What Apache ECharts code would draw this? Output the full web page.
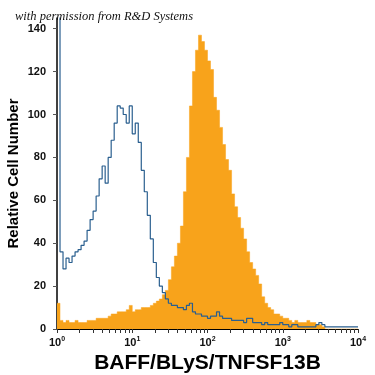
<!DOCTYPE html>
<html><head><meta charset="utf-8">
<script src="https://cdn.jsdelivr.net/npm/echarts@6/dist/echarts.min.js"></script>
<style>html,body{margin:0;padding:0;background:#fff}#c{width:375px;height:375px}</style>
</head><body><div id="c"></div>
<script>
// Histogram channels: 100 bins, each 0.04 decade wide, starting at 10^0
const binWidthDecades = 0.04;
// Isotype control (blue outline)
const controlCounts = [150,36,28,33,31,34,36,37,39,41,
  46,51,55,62,70,76,68,80,88,96,
  104,103,100,96,104,91,96,87,74,64,
  53,42,31,24,20,17,14,12,11,11,
  10,10,9,11,12,8,7,7,6,6,
  5,6,6,8,6,5,5,5,4,4,
  4,4,3,5,5,3,3,3,2,3,
  2,2,2,2,3,2,2,1,2,2,
  1,1,1,1,1,1,2,3,2,1,
  1,1,1,1,1,1,1,1,1,1];
// Anti-BAFF stained (orange filled)
const stainedCounts = [12,4,3,4,3,3,4,3,3,3,
  4,4,4,5,5,5,5,6,7,7,
  8,8,8,9,11,8,9,9,10,10,
  10,11,12,13,14,16,18,23,29,34,
  40,48,64,80,104,120,130,137,134,130,
  125,121,108,102,94,86,79,74,63,57,
  52,47,42,36,31,28,25,21,15,12,
  10,9,7,7,6,5,5,4,3,4,
  3,3,3,4,3,3,2,2,1,0,
  0,0,0,0,0,0,0,0,0,0];
const xLabelValues = [1,10,100,1000,10000];
const xLabelExponents = ['0','1','2','3','4'];
const xMinorTicks = [1,2,3,4,5,6,7,8,9,10,20,30,40,50,60,70,80,90,100,200,300,400,500,600,700,800,900,1000,2000,3000,4000,5000,6000,7000,8000,9000,10000];
const yTickValues = [0,20,40,60,80,100,120,140];
const titleText = 'with permission from R&D Systems';
const xName = 'BAFF/BLyS/TNFSF13B';
const yName = 'Relative Cell Number';

function toSteps(counts){
  const pts = counts.map((c,i)=>[Math.pow(10, i*binWidthDecades), c]);
  pts.push([Math.pow(10, counts.length*binWidthDecades), counts[counts.length-1]]);
  return pts;
}

const chart = echarts.init(document.getElementById('c'), null, {renderer:'canvas'});
chart.setOption({
  animation:false,
  backgroundColor:'#fff',
  title:{text:titleText, left:10, top:5, textStyle:{fontFamily:'Liberation Serif', fontStyle:'italic', fontWeight:'normal', fontSize:12.5, color:'#111'}},
  grid:{left:57, right:17, top:18, bottom:46, containLabel:false, outerBoundsMode:'none'},
  xAxis:{
    type:'log', logBase:10, min:1, max:10000,
    name:xName, nameLocation:'middle', nameGap:24, nameMoveOverlap:false,
    nameTextStyle:{fontFamily:'Liberation Sans', fontWeight:'bold', fontSize:21, color:'#000'},
    axisLine:{lineStyle:{color:'#000', width:1}},
    axisTick:{customValues:xMinorTicks, length:4, lineStyle:{color:'#333', width:1}},
    axisLabel:{customValues:xLabelValues, margin:7,
      formatter:(v)=>'10{s|'+xLabelExponents[xLabelValues.indexOf(v)]+'}',
      fontFamily:'Liberation Sans', fontWeight:'bold', fontSize:11, color:'#111',
      rich:{s:{fontSize:7, fontFamily:'Liberation Sans', fontWeight:'bold', color:'#111', verticalAlign:'top', padding:[0,0,6,0]}}},
    splitLine:{show:false}, minorTick:{show:false}, minorSplitLine:{show:false}
  },
  yAxis:{
    type:'value', min:0, max:145,
    name:yName, nameLocation:'middle', nameGap:43, nameRotate:90, nameMoveOverlap:false,
    nameTextStyle:{fontFamily:'Liberation Sans', fontWeight:'bold', fontSize:15, color:'#000', verticalAlign:'middle'},
    axisLine:{show:true, lineStyle:{color:'#000', width:1.5}},
    axisTick:{show:true, customValues:yTickValues, length:4, lineStyle:{color:'#555'}},
    axisLabel:{customValues:yTickValues, margin:11, fontFamily:'Liberation Sans', fontWeight:'bold', fontSize:11, color:'#111'},
    splitLine:{show:false}
  },
  series:[
    {type:'line', step:'end', data:toSteps(stainedCounts), showSymbol:false, clip:true,
     lineStyle:{color:'#F8A31B', width:0.5}, areaStyle:{color:'#F8A31B', opacity:1}, z:2},
    {type:'line', step:'end', data:toSteps(controlCounts), showSymbol:false, clip:true,
     lineStyle:{color:'#2a5f8f', width:1.2}, z:3}
  ]
});
</script></body></html>
